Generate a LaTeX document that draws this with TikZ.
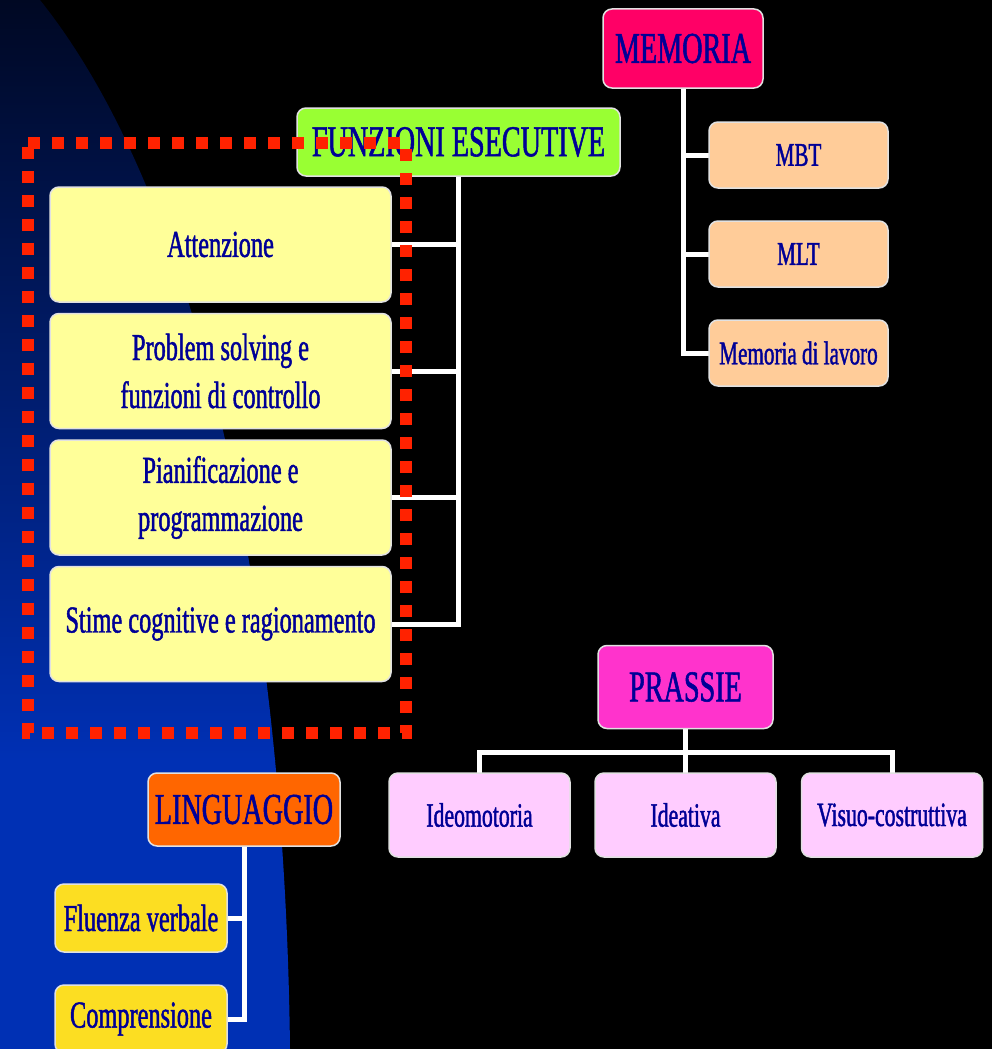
\documentclass[tikz,border=0pt]{standalone}
\usepackage{fontspec}
\newfontfamily\cfont[FakeStretch=0.64,FakeBold=1.2]{Liberation Serif}
\definecolor{txt}{RGB}{0,0,150}
\definecolor{topblue}{RGB}{0,8,35}
\definecolor{botblue}{RGB}{0,48,180}
\definecolor{fecol}{RGB}{153,255,51}
\definecolor{memcol}{RGB}{255,0,102}
\definecolor{peach}{RGB}{255,204,153}
\definecolor{lyellow}{RGB}{255,255,153}
\definecolor{prcol}{RGB}{255,51,204}
\definecolor{lpink}{RGB}{255,204,255}
\definecolor{lingcol}{RGB}{255,102,0}
\definecolor{gold}{RGB}{252,222,34}
\definecolor{framecol}{RGB}{255,34,0}
\definecolor{edge}{RGB}{225,225,225}
\pgfdeclarelayer{back}
\pgfdeclarelayer{mid}
\pgfsetlayers{back,mid,main}
\begin{document}
\begin{tikzpicture}[x=1pt,y=-1pt,
  box/.style={draw=edge, line width=1.5pt, rounded corners=9pt, text=txt, inner sep=0pt, align=center},
  head/.style={box, font=\cfont\fontsize{44}{50}\selectfont},
  fbox/.style={box, fill=lyellow, minimum width=341pt, minimum height=115pt, font=\cfont\fontsize{38}{48}\selectfont},
  mbox/.style={box, fill=peach, minimum width=179pt, minimum height=66pt, font=\cfont\fontsize{33}{40}\selectfont},
  pbox/.style={box, fill=lpink, minimum width=181pt, minimum height=84pt, font=\cfont\fontsize{34}{40}\selectfont},
  lbox/.style={box, fill=gold, minimum width=172pt, minimum height=68pt, font=\cfont\fontsize{38}{44}\selectfont},
  conn/.style={draw=white, line width=5pt, line cap=rect, line join=miter},
  dotframe/.style={draw=framecol, line width=12pt, dash pattern=on 12pt off 12pt}]
\useasboundingbox (0,0) rectangle (992,1049);
\begin{pgfonlayer}{back}
\fill[black] (0,0) rectangle (992,1049);
\begin{scope}
\clip (0,0) -- (40,0) .. controls (200,200) and (285,600) .. (290,1049) -- (0,1049) -- cycle;
\shade[top color=topblue, bottom color=botblue] (0,0) rectangle (300,760);
\fill[botblue] (0,759) rectangle (300,1049);
\end{scope}
\end{pgfonlayer}
% nodes
\node[head, fill=fecol, minimum width=323pt, minimum height=68pt] (fe) at (458.5,142) {FUNZIONI ESECUTIVE};
\node[head, fill=memcol, minimum width=160pt, minimum height=79pt] (mem) at (683,48.5) {MEMORIA};
\node[mbox] (mbt) at (798.5,155) {MBT};
\node[mbox] (mlt) at (798.5,254) {MLT};
\node[mbox] (mdl) at (798.5,353) {Memoria di lavoro};
\node[fbox] (att) at (220.5,244.5) {Attenzione};
\node[fbox] (ps) at (220.5,371) {Problem solving e\\funzioni di controllo};
\node[fbox] (pian) at (220.5,497.5) {Pianificazione e\\programmazione};
\node[fbox] (stime) at (220.5,624) {Stime cognitive e ragionamento};
\node[head, fill=prcol, minimum width=175pt, minimum height=83pt] (pr) at (685.5,687) {PRASSIE};
\node[pbox] (ideo) at (479.5,815) {Ideomotoria};
\node[pbox] (ideat) at (685.5,815) {Ideativa};
\node[pbox] (visuo) at (892,815) {Visuo-costruttiva};
\node[head, fill=lingcol, minimum width=192pt, minimum height=73pt] (ling) at (244,809.5) {LINGUAGGIO};
\node[lbox] (flu) at (141,918) {Fluenza verbale};
\node[lbox] (comp) at (141,1019) {Comprensione};
\coordinate (bus) at (685.5,752);
% connectors behind boxes
\begin{pgfonlayer}{mid}
\draw[conn] (fe.south) -- (fe.south |- stime.east);
\foreach \n in {att,ps,pian,stime} \draw[conn] (\n.east) -- (\n.east -| fe.south);
\draw[conn] (mem.south) -- (mem.south |- mdl.west);
\foreach \n in {mbt,mlt,mdl} \draw[conn] (\n.west) -- (\n.west -| mem.south);
\draw[conn] (pr.south) -- (bus);
\draw[conn] (ideo.north) -- (ideo.north |- bus) -- (visuo.north |- bus) -- (visuo.north);
\draw[conn] (ideat.north) -- (bus);
\draw[conn] (ling.south) -- (ling.south |- comp.east);
\foreach \n in {flu,comp} \draw[conn] (\n.east) -- (\n.east -| ling.south);
\end{pgfonlayer}
% red dotted frame on top
\draw[dotframe] (28,143) -- (406,143) -- (406,733) -- (28,733) -- cycle;
\end{tikzpicture}
\end{document}
